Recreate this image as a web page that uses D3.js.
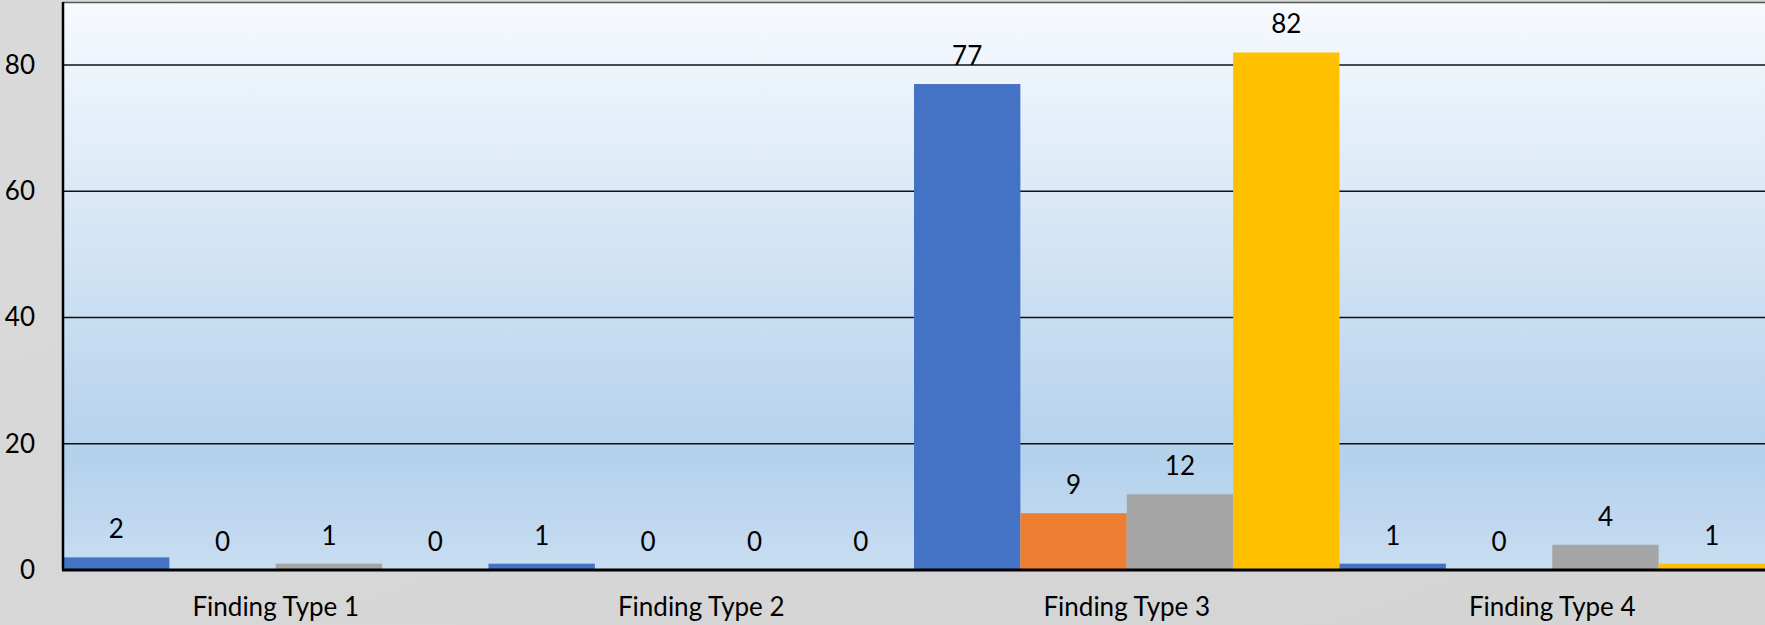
<!DOCTYPE html>
<html lang="en">
<head>
    <meta charset="UTF-8">
    <title>Finding Types</title>
    <script src="https://cdn.jsdelivr.net/npm/d3@7"></script>
    <style>
    html,body{
        margin:0;
        width:100%;
        height:100%;
        background:#d9d9d9;
    }
    svg{
        display:block;
    }
    text{
        font-family: Lato, "Noto Sans", sans-serif;
        fill:#000;
    }
    </style>
</head>
<body>
<script>
    const categories = ["Finding Type 1","Finding Type 2","Finding Type 3","Finding Type 4"];
    const seriesNames = ["s1","s2","s3","s4"];
    const seriesColors = ["#4472c4","#ed7d31","#a5a5a5","#ffc000"];
    const s1 = [2,1,77,1];
    const s2 = [0,0,9,0];
    const s3 = [1,0,12,4];
    const s4 = [0,0,82,1];
    const yTicks = [0,20,40,60,80];

    const width = 1765, height = 625;
    const margin = {top:2, right:0, bottom:55, left:63};
    const values = [s1,s2,s3,s4];
    const fontSize = "26px";

    let svg = d3.select("body").append("svg")
        .attr("width",width)
        .attr("height",height);

    let defs = svg.append("defs");
    let bgGrad = defs.append("linearGradient").attr("id","bg")
        .attr("x1","0").attr("y1","0").attr("x2","1").attr("y2","1");
    bgGrad.append("stop").attr("offset","0%").attr("stop-color","#dadada");
    bgGrad.append("stop").attr("offset","100%").attr("stop-color","#d4d4d4");
    let plotGrad = defs.append("linearGradient").attr("id","plot")
        .attr("x1","0").attr("y1","0").attr("x2","0").attr("y2","1");
    plotGrad.append("stop").attr("offset","0%").attr("stop-color","#f7fafe");
    plotGrad.append("stop").attr("offset","80%").attr("stop-color","#b4d1ec");
    plotGrad.append("stop").attr("offset","100%").attr("stop-color","#c8ddf1");

    svg.append("rect").attr("width",width).attr("height",height).attr("fill","url(#bg)");

    let x0 = d3.scaleBand().domain(categories)
        .range([margin.left,width-margin.right]).paddingInner(0).paddingOuter(0);
    let x1 = d3.scaleBand().domain(seriesNames)
        .range([0,x0.bandwidth()]).padding(0);
    let y = d3.scaleLinear().domain([0,90]).range([height-margin.bottom,margin.top]);

    svg.append("rect")
        .attr("x",margin.left).attr("y",margin.top)
        .attr("width",width-margin.left-margin.right)
        .attr("height",y(0)-margin.top)
        .attr("fill","url(#plot)");

    // top border
    svg.append("line")
        .attr("x1",margin.left).attr("x2",width)
        .attr("y1",margin.top+0.5).attr("y2",margin.top+0.5)
        .attr("stroke","#555").attr("stroke-width",1.5);

    // gridlines
    svg.append("g")
        .selectAll("line")
        .data(yTicks.filter(d=>d>0))
        .join("line")
        .attr("x1",margin.left).attr("x2",width)
        .attr("y1",d=>y(d)).attr("y2",d=>y(d))
        .attr("stroke","#111").attr("stroke-width",1.5);

    // bars
    let groups = svg.append("g")
        .selectAll("g")
        .data(categories)
        .join("g")
        .attr("transform",d=>`translate(${x0(d)},0)`);

    groups.selectAll("rect")
        .data((c,i)=>seriesNames.map((s,j)=>({s:s,v:values[j][i],c:seriesColors[j]})))
        .join("rect")
        .attr("x",d=>x1(d.s))
        .attr("width",x1.bandwidth())
        .attr("y",d=>y(d.v))
        .attr("height",d=>y(0)-y(d.v))
        .attr("fill",d=>d.c);

    groups.selectAll("text")
        .data((c,i)=>seriesNames.map((s,j)=>({s:s,v:values[j][i]})))
        .join("text")
        .attr("x",d=>x1(d.s)+x1.bandwidth()/2)
        .attr("y",d=>y(d.v)-19)
        .attr("text-anchor","middle")
        .style("font-size",fontSize)
        .text(d=>d.v);

    // axes
    let yAxis = svg.append("g")
        .attr("transform",`translate(${margin.left},0)`)
        .call(d3.axisLeft(y).tickValues(yTicks).tickSize(0).tickPadding(28));
    yAxis.select(".domain").attr("stroke","#000").attr("stroke-width",2.5)
        .attr("d",`M0,${margin.top}V${y(0)}`);
    yAxis.selectAll("text").style("font-size",fontSize).attr("font-family",null);

    svg.append("line")
        .attr("x1",margin.left-1).attr("x2",width)
        .attr("y1",y(0)).attr("y2",y(0))
        .attr("stroke","#000").attr("stroke-width",3);

    let xAxis = svg.append("g")
        .attr("transform",`translate(0,${y(0)})`)
        .call(d3.axisBottom(x0).tickSize(0).tickPadding(28));
    xAxis.select(".domain").remove();
    xAxis.selectAll("text").style("font-size",fontSize).attr("font-family",null);
</script>
</body>
</html>
